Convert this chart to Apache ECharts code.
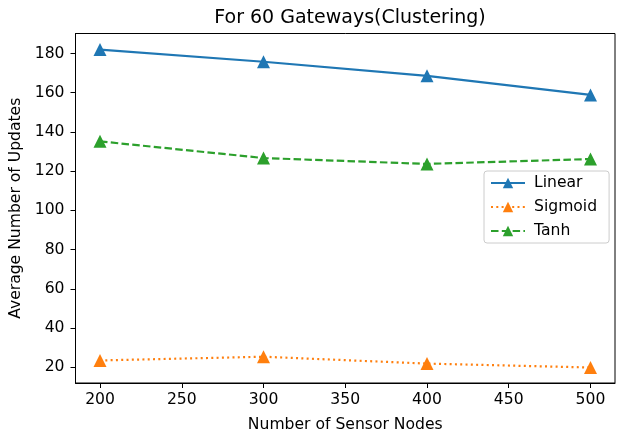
<!DOCTYPE html>
<html>
<head>
<meta charset="utf-8">
<script src="https://cdn.jsdelivr.net/npm/echarts@6/dist/echarts.min.js"></script>
<style>
  html, body { margin: 0; padding: 0; background: #fff; }
  #chart { width: 618px; height: 434px; }
</style>
</head>
<body>
<div id="chart"></div>
<script>
// Sensor node counts on the x axis
const sensorNodes = [200, 300, 400, 500];
// Average number of updates per activation function
const linearUpdates = [182.0, 175.8, 168.6, 158.9];
const sigmoidUpdates = [23.5, 25.4, 21.9, 19.9];
const tanhUpdates = [135.2, 126.7, 123.7, 126.2];
// Tick labels
const xTicks = [200, 250, 300, 350, 400, 450, 500];
const yTicks = [20, 40, 60, 80, 100, 120, 140, 160, 180];

const FONT = 'DejaVu Sans';
const FS = 15.6;
const C_LINEAR = '#1f77b4';
const C_SIGMOID = '#ff7f0e';
const C_TANH = '#2ca02c';

function pairs(xs, ys) { return xs.map((x, i) => [x, ys[i]]); }

function series(name, values, color, dash) {
  return {
    name: name,
    type: 'line',
    data: pairs(sensorNodes, values),
    symbol: 'triangle',
    symbolSize: 13,
    showSymbol: true,
    color: color,
    itemStyle: { color: color },
    lineStyle: { color: color, width: 2.2, type: dash },
    animation: false,
    z: 3
  };
}

const chart = echarts.init(document.getElementById('chart'), null, { renderer: 'canvas' });
chart.setOption({
  backgroundColor: '#fff',
  animation: false,
  textStyle: { fontFamily: FONT },
  title: {
    text: 'For 60 Gateways(Clustering)',
    left: 345, top: 4, textAlign: 'center',
    textStyle: { fontFamily: FONT, fontSize: 19, fontWeight: 'normal', color: '#000' }
  },
  grid: {
    left: 75.5, right: 3, top: 33.5, bottom: 51,
    outerBoundsMode: 'none',
    containLabel: false,
    show: true, borderColor: '#000', borderWidth: 1, backgroundColor: 'transparent'
  },
  legend: {
    orient: 'vertical',
    left: 484, top: 171,
    padding: [4, 12, 4, 6],
    itemWidth: 34, itemHeight: 13, itemGap: 8,
    backgroundColor: 'rgba(255,255,255,0.8)',
    borderColor: '#cccccc', borderWidth: 1, borderRadius: 3,
    textStyle: { fontFamily: FONT, fontSize: FS, color: '#000', padding: [0, 0, 0, 4] },
    data: ['Linear', 'Sigmoid', 'Tanh']
  },
  xAxis: {
    type: 'value',
    min: 185, max: 515,
    name: 'Number of Sensor Nodes',
    nameLocation: 'middle', nameGap: 34,
    nameTextStyle: { fontFamily: FONT, fontSize: FS, color: '#000' },
    axisLine: { show: true, lineStyle: { color: '#000', width: 1 } },
    axisTick: { show: true, inside: false, length: 5, lineStyle: { color: '#000' }, customValues: xTicks },
    axisLabel: { fontFamily: FONT, fontSize: FS, color: '#000', margin: 9, customValues: xTicks },
    splitLine: { show: false }
  },
  yAxis: {
    type: 'value',
    min: 12, max: 190.2,
    name: 'Average Number of Updates',
    nameLocation: 'middle', nameGap: 49,
    nameTextStyle: { fontFamily: FONT, fontSize: FS, color: '#000' },
    axisLine: { show: true, lineStyle: { color: '#000', width: 1 } },
    axisTick: { show: true, inside: false, length: 5, lineStyle: { color: '#000' }, customValues: yTicks },
    axisLabel: { fontFamily: FONT, fontSize: FS, color: '#000', margin: 11, customValues: yTicks },
    splitLine: { show: false }
  },
  series: [
    series('Linear', linearUpdates, C_LINEAR, 'solid'),
    series('Sigmoid', sigmoidUpdates, C_SIGMOID, [2, 3.3]),
    series('Tanh', tanhUpdates, C_TANH, [7.5, 3.3])
  ]
});
</script>
</body>
</html>
